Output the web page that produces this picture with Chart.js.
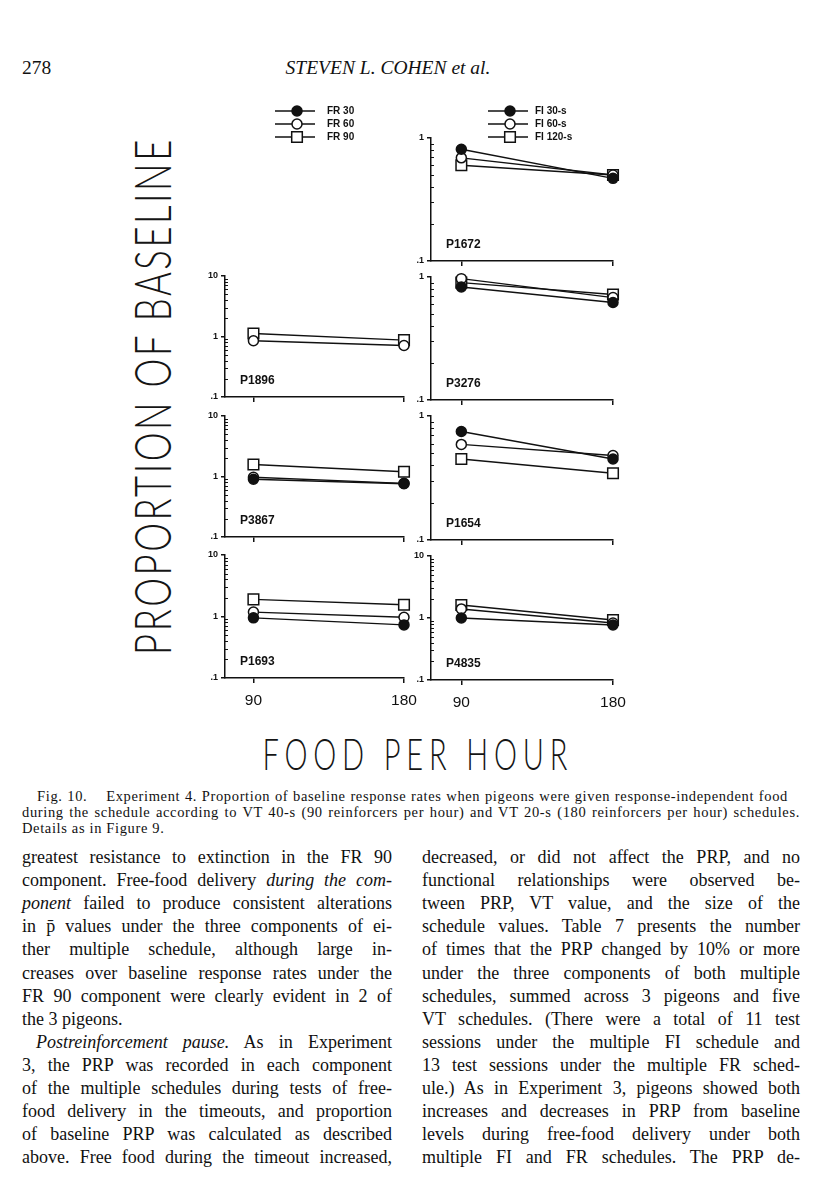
<!DOCTYPE html>
<html>
<head>
<meta charset="utf-8">
<script src="https://cdn.jsdelivr.net/npm/chart.js@4.4.1/dist/chart.umd.min.js"></script>
<style>
  body { margin: 0; background: #fff; width: 816px; height: 1200px; position: relative; overflow: hidden;
         font-family: 'Liberation Serif', 'Times New Roman', serif; color: #111; }
  .abs { position: absolute; white-space: nowrap; }
  canvas.panel { position: absolute; }
  .bigtitle { position: absolute; text-align: center; font-family: 'Lato', 'Open Sans', sans-serif; font-weight: 300; color: #151515; white-space: nowrap; }
  .bigtitle span { display: inline-block; transform-origin: 50% 50%; }
  .line { position: absolute; height: 23px; line-height: 23px; font-size: 17px; text-align: justify; text-align-last: justify; }
  .line.last { text-align-last: left; }
  .cap { position: absolute; height: 16px; line-height: 16px; font-size: 14.5px; text-align: justify; text-align-last: justify; }
</style>
</head>
<body>
<div class="abs" style="left:22px; top:57px; font-size:19.5px; line-height:22px;">278</div>
<div class="abs" style="left:270px; top:57px; width:236px; text-align:center; font-size:19.5px; line-height:22px; font-style:italic;">STEVEN L. COHEN <i>et al.</i></div>

<div id="ytitle" class="bigtitle" style="left:-349px; top:367px; width:1000px; height:60px; line-height:60px; font-size:52px; transform:rotate(-90deg);"><span>PROPORTION OF BASELINE</span></div>
<div id="xtitle" class="bigtitle" style="left:115px; top:728px; width:600px; height:50px; line-height:50px; font-size:44px;"><span>FOOD PER HOUR</span></div>

<div id="caption"></div>
<div id="body"></div>

<script>
// x values: reinforcers (food) per hour
const foodPerHour = [90, 180];
const frLabels = ['FR 30', 'FR 60', 'FR 90'];
const fiLabels = ['FI 30-s', 'FI 60-s', 'FI 120-s'];

// proportion of baseline, [at 90, at 180]
const p1896_fr30 = [null, null];
const p1896_fr60 = [0.85, 0.71];
const p1896_fr90 = [1.12, 0.87];
const p3867_fr30 = [0.90, 0.76];
const p3867_fr60 = [0.97, 0.77];
const p3867_fr90 = [1.58, 1.20];
const p1693_fr30 = [0.95, 0.73];
const p1693_fr60 = [1.18, 0.97];
const p1693_fr90 = [1.90, 1.55];

const p1672_fi30 = [0.81, 0.47];
const p1672_fi60 = [0.69, 0.50];
const p1672_fi120 = [0.60, 0.50];
const p3276_fi30 = [0.83, 0.62];
const p3276_fi60 = [0.97, 0.68];
const p3276_fi120 = [0.90, 0.72];
const p1654_fi30 = [0.75, 0.45];
const p1654_fi60 = [0.59, 0.48];
const p1654_fi120 = [0.45, 0.345];
const p4835_fi30 = [1.00, 0.77];
const p4835_fi60 = [1.40, 0.83];
const p4835_fi120 = [1.62, 0.93];

const markerStyles = [
  { pointStyle: 'circle', fill: '#111', radius: 5 },
  { pointStyle: 'circle', fill: '#fff', radius: 5 },
  { pointStyle: 'rect', fill: '#fff', radius: 7.5 }
];

const columns = [
  { left: 225, right: 404, xMin: 73 },
  { left: 431, right: 613, xMin: 72 }
];

const panels = [
  { name: 'P1672', col: 1, top: 138, bottom: 261, yMax: 1, series: [p1672_fi30, p1672_fi60, p1672_fi120], labels: fiLabels, legend: { x: 89, y: 11, gap: 13, text: 136 } },
  { name: 'P1896', col: 0, top: 276, bottom: 397, yMax: 10, series: [p1896_fr30, p1896_fr60, p1896_fr90], labels: frLabels, legend: { x: 82, y: 11, gap: 13, text: 134 } },
  { name: 'P3276', col: 1, top: 277, bottom: 400, yMax: 1, series: [p3276_fi30, p3276_fi60, p3276_fi120], labels: fiLabels },
  { name: 'P3867', col: 0, top: 416, bottom: 537, yMax: 10, series: [p3867_fr30, p3867_fr60, p3867_fr90], labels: frLabels },
  { name: 'P1654', col: 1, top: 416, bottom: 540, yMax: 1, series: [p1654_fi30, p1654_fi60, p1654_fi120], labels: fiLabels },
  { name: 'P1693', col: 0, top: 555, bottom: 678, yMax: 10, series: [p1693_fr30, p1693_fr60, p1693_fr90], labels: frLabels, xLabels: true },
  { name: 'P4835', col: 1, top: 556, bottom: 680, yMax: 10, series: [p4835_fi30, p4835_fi60, p4835_fi120], labels: fiLabels, xLabels: true }
];

function isMajor(v) {
  const l = Math.log10(v);
  return Math.abs(l - Math.round(l)) < 1e-6;
}

function logTicks(min, max) {
  const out = [];
  for (let e = Math.round(Math.log10(min)); e <= Math.round(Math.log10(max)); e++) {
    for (let k = 1; k <= 9; k++) {
      const v = Number((k * Math.pow(10, e)).toPrecision(3));
      if (v >= min - 1e-9 && v <= max + 1e-9) out.push(v);
    }
  }
  return out;
}

function yLabel(v) {
  if (!isMajor(v)) return '';
  if (v < 1) return '.1';
  return String(Math.round(v));
}

// small ticks for 2..9 drawn on the inner side of the y axis
const minorTicks = {
  id: 'minorTicks',
  afterDraw(chart) {
    const s = chart.scales.y, ctx = chart.ctx;
    ctx.save();
    ctx.strokeStyle = '#111';
    ctx.lineWidth = 1;
    s.ticks.forEach(t => {
      if (isMajor(t.value)) return;
      const y = Math.round(s.getPixelForValue(t.value)) + 0.5;
      ctx.beginPath();
      ctx.moveTo(s.right, y);
      ctx.lineTo(s.right + 3, y);
      ctx.stroke();
    });
    ctx.restore();
  }
};

const panelName = {
  id: 'panelName',
  afterDraw(chart, args, opts) {
    const ctx = chart.ctx, a = chart.chartArea;
    ctx.save();
    ctx.fillStyle = '#111';
    ctx.font = '600 12px "Liberation Sans", Arial, sans-serif';
    ctx.textBaseline = 'middle';
    ctx.fillText(opts.text, a.left + 15, a.bottom - 16);
    ctx.restore();
  }
};

function drawMarker(ctx, ds, x, y) {
  ctx.beginPath();
  if (ds.pointStyle === 'rect') {
    const h = ds.pointRadius * Math.SQRT1_2;
    ctx.rect(x - h, y - h, 2 * h, 2 * h);
  } else {
    ctx.arc(x, y, ds.pointRadius, 0, Math.PI * 2);
  }
  ctx.fillStyle = ds.pointBackgroundColor;
  ctx.fill();
  ctx.lineWidth = ds.pointBorderWidth;
  ctx.strokeStyle = ds.pointBorderColor;
  ctx.stroke();
}

// legend as line-through-marker, like the figure's key
const lineLegend = {
  id: 'lineLegend',
  afterDraw(chart, args, opts) {
    if (!opts.x) return;
    const ctx = chart.ctx;
    ctx.save();
    chart.data.datasets.forEach((ds, i) => {
      const y = opts.y + i * opts.gap;
      ctx.strokeStyle = ds.borderColor;
      ctx.lineWidth = 1.5;
      ctx.beginPath();
      ctx.moveTo(opts.x, y);
      ctx.lineTo(opts.x + 40, y);
      ctx.stroke();
      drawMarker(ctx, ds, opts.x + 22, y);
      ctx.fillStyle = '#111';
      ctx.font = 'bold 10px "Liberation Sans", Arial, sans-serif';
      ctx.textBaseline = 'middle';
      ctx.fillText(ds.label, opts.text, y + 0.5);
    });
    ctx.restore();
  }
};

function makePanel(p) {
  const col = columns[p.col];
  const padTop = p.legend ? p.top - 100 : 10;
  const xh = p.xLabels ? 34 : 10;
  const canvas = document.createElement('canvas');
  canvas.className = 'panel';
  canvas.width = 32 + (col.right - col.left) + 14;
  canvas.height = padTop + (p.bottom - p.top) + xh;
  canvas.style.left = (col.left - 32) + 'px';
  canvas.style.top = (p.top - padTop) + 'px';
  document.body.appendChild(canvas);

  const datasets = p.series.map((vals, i) => {
    const m = markerStyles[i];
    return {
      label: p.labels[i],
      data: foodPerHour.map((x, j) => ({ x: x, y: vals[j] })),
      borderColor: '#111',
      borderWidth: 1.4,
      pointStyle: m.pointStyle,
      pointRadius: m.radius,
      pointBackgroundColor: m.fill,
      pointBorderColor: '#111',
      pointBorderWidth: 1.5,
      tension: 0,
      clip: false
    };
  });

  new Chart(canvas.getContext('2d'), {
    type: 'line',
    data: { datasets: datasets },
    options: {
      responsive: false,
      animation: false,
      events: [],
      layout: { padding: { top: padTop, right: 14, left: 0, bottom: 0 } },
      plugins: {
        legend: { display: false },
        tooltip: { enabled: false },
        panelName: { text: p.name },
        lineLegend: p.legend || {}
      },
      scales: {
        x: {
          type: 'linear',
          min: col.xMin,
          max: 180,
          afterBuildTicks: s => { s.ticks = foodPerHour.map(v => ({ value: v })); },
          afterFit: s => { s.height = xh; s.paddingLeft = 0; s.paddingRight = 0; },
          ticks: {
            display: !!p.xLabels, autoSkip: false, maxRotation: 0, padding: 8,
            color: '#111', font: { family: '"Liberation Sans", Arial, sans-serif', size: 15.5 },
            callback: v => String(v)
          },
          grid: { drawOnChartArea: false, tickLength: 5, color: '#111', lineWidth: 1.5 },
          border: { display: true, color: '#111', width: 1.5 }
        },
        y: {
          type: 'logarithmic',
          min: 0.1,
          max: p.yMax,
          afterBuildTicks: s => { s.ticks = logTicks(0.1, p.yMax).map(v => ({ value: v })); },
          afterFit: s => { s.width = 32; s.paddingTop = 0; s.paddingBottom = 0; },
          ticks: {
            autoSkip: false, padding: 3, color: '#111',
            font: { family: '"Liberation Sans", Arial, sans-serif', size: 9, weight: 'bold' },
            callback: v => yLabel(v)
          },
          grid: {
            drawOnChartArea: false, tickLength: 4, lineWidth: 1.5,
            tickColor: c => (c.tick && isMajor(c.tick.value)) ? '#111' : 'rgba(0,0,0,0)'
          },
          border: { display: true, color: '#111', width: 1.5 }
        }
      }
    },
    plugins: [minorTicks, panelName, lineLegend]
  });
}

panels.forEach(makePanel);

// caption
const captionLines = [
  { x: 37, w: 751, html: 'Fig. 10.&nbsp;&nbsp;&nbsp; Experiment 4. Proportion of baseline response rates when pigeons were given response-independent food' },
  { x: 22, w: 778, html: 'during the schedule according to VT 40-s (90 reinforcers per hour) and VT 20-s (180 reinforcers per hour) schedules.' },
  { x: 22, w: 778, html: 'Details as in Figure 9.', last: true }
];

// body text, two columns ('#' = last line of a paragraph, '>' = indented)
const leftColumn = [
  'greatest resistance to extinction in the FR 90',
  'component. Free-food delivery <i>during the com-</i>',
  '<i>ponent</i> failed to produce consistent alterations',
  'in p\u0304 values under the three components of ei-',
  'ther multiple schedule, although large in-',
  'creases over baseline response rates under the',
  'FR 90 component were clearly evident in 2 of',
  '#the 3 pigeons.',
  '><i>Postreinforcement pause.</i> As in Experiment',
  '3, the PRP was recorded in each component',
  'of the multiple schedules during tests of free-',
  'food delivery in the timeouts, and proportion',
  'of baseline PRP was calculated as described',
  'above. Free food during the timeout increased,'
];
const rightColumn = [
  'decreased, or did not affect the PRP, and no',
  'functional relationships were observed be-',
  'tween PRP, VT value, and the size of the',
  'schedule values. Table 7 presents the number',
  'of times that the PRP changed by 10% or more',
  'under the three components of both multiple',
  'schedules, summed across 3 pigeons and five',
  'VT schedules. (There were a total of 11 test',
  'sessions under the multiple FI schedule and',
  '13 test sessions under the multiple FR sched-',
  'ule.) As in Experiment 3, pigeons showed both',
  'increases and decreases in PRP from baseline',
  'levels during free-food delivery under both',
  'multiple FI and FR schedules. The PRP de-'
];

function measure(html, font) {
  const s = document.createElement('span');
  s.style.cssText = 'position:absolute; left:0; top:0; visibility:hidden; white-space:nowrap; font:' + font;
  s.innerHTML = html;
  document.body.appendChild(s);
  const r = { w: s.getBoundingClientRect().width, n: s.textContent.length };
  s.remove();
  return r;
}

function layoutText() {
  // caption: widen the letters a little so the full lines are only lightly stretched
  let capLs = 3;
  captionLines.slice(0, 2).forEach(l => {
    const m = measure(l.html, '14.5px "Liberation Serif"');
    capLs = Math.min(capLs, (l.w * 0.99 - m.w) / m.n);
  });
  capLs = Math.max(capLs, 0);
  const cap = document.getElementById('caption');
  captionLines.forEach((l, i) => {
    const d = document.createElement('div');
    d.className = 'cap';
    d.style.left = l.x + 'px';
    d.style.top = (788 + i * 16) + 'px';
    d.style.width = l.w + 'px';
    d.style.letterSpacing = capLs + 'px';
    if (l.last) d.style.textAlignLast = 'left';
    d.innerHTML = l.html;
    cap.appendChild(d);
  });

  const cols = [[leftColumn, 22, 370], [rightColumn, 422, 378]];
  let bodySize = 18;
  cols.forEach(([lines, x, w]) => {
    lines.forEach(t => {
      if (t[0] === '#') return;
      let width = w;
      if (t[0] === '>') { width = w - 14; t = t.slice(1); }
      const m = measure(t, '17px "Liberation Serif"');
      bodySize = Math.min(bodySize, 17 * (width * 0.975) / m.w);
    });
  });
  const bodyEl = document.getElementById('body');
  cols.forEach(([lines, x, w]) => {
    lines.forEach((t, i) => {
      const d = document.createElement('div');
      d.className = 'line';
      let left = x, width = w;
      if (t[0] === '#') { d.classList.add('last'); t = t.slice(1); }
      if (t[0] === '>') { left = x + 14; width = w - 14; t = t.slice(1); }
      d.style.left = left + 'px';
      d.style.width = width + 'px';
      d.style.top = (846 + i * 23.1) + 'px';
      d.style.fontSize = bodySize + 'px';
      d.innerHTML = t;
      bodyEl.appendChild(d);
    });
  });

  // big axis titles: condensed light caps spread to their length in the figure
  fitTitle('ytitle', 515, 0.7);
  fitTitle('xtitle', 305, 0.66);
}

function fitTitle(id, target, scale) {
  const span = document.querySelector('#' + id + ' span');
  span.style.letterSpacing = '0px';
  const w = span.offsetWidth;
  const n = span.textContent.length;
  const ls = (target / scale - w) / (n - 1);
  span.style.letterSpacing = ls + 'px';
  span.style.paddingLeft = ls + 'px';
  span.style.transform = 'scaleX(' + scale + ')';
}

document.fonts.ready.then(layoutText);
</script>
</body>
</html>
